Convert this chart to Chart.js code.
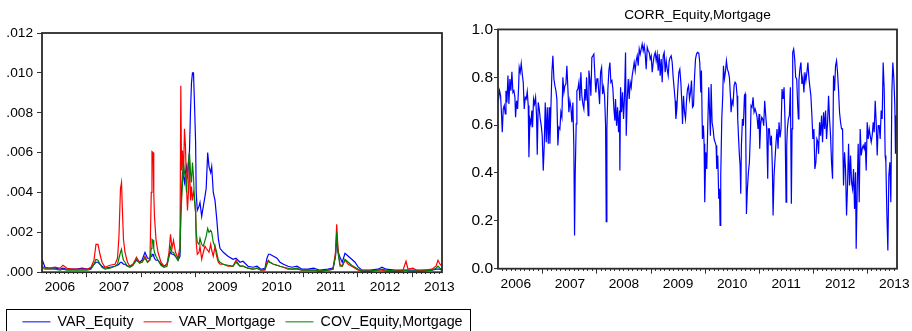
<!DOCTYPE html>
<html>
<head>
<meta charset="utf-8">
<script src="https://cdn.jsdelivr.net/npm/chart.js@4.4.0/dist/chart.umd.min.js"></script>
<style>
  body { margin: 0; background: #fff; overflow: hidden; width: 912px; height: 331px; position: relative; }
  canvas { position: absolute; top: 0; }
  #varChart { left: 0; }
  #corrChart { left: 455px; }
</style>
</head>
<body>
<canvas id="varChart" width="485" height="345"></canvas>
<canvas id="corrChart" width="457" height="331"></canvas>
<script>
// tick labels
const yearLabels = [2006, 2007, 2008, 2009, 2010, 2011, 2012, 2013];
const varTicks = [0, 0.002, 0.004, 0.006, 0.008, 0.01, 0.012];
const corrTicks = [0, 0.2, 0.4, 0.6, 0.8, 1.0];

// left panel: variances and covariance (dates as decimal years)
const varDates = [
  2006.170, 2006.225, 2006.317, 2006.410, 2006.502, 2006.557, 2006.631, 2006.723, 2006.815, 2006.908,
  2007.000, 2007.074, 2007.129, 2007.166, 2007.203, 2007.240, 2007.277, 2007.332, 2007.424, 2007.517,
  2007.563, 2007.590, 2007.618, 2007.637, 2007.655, 2007.673, 2007.701, 2007.747, 2007.793, 2007.849,
  2007.913, 2007.969, 2008.015, 2008.070, 2008.116, 2008.162, 2008.186, 2008.199, 2008.218, 2008.232,
  2008.245, 2008.273, 2008.310, 2008.365, 2008.421, 2008.476, 2008.513, 2008.541, 2008.568, 2008.596,
  2008.633, 2008.679, 2008.716, 2008.731, 2008.744, 2008.762, 2008.780, 2008.799, 2008.817, 2008.836,
  2008.854, 2008.873, 2008.891, 2008.910, 2008.928, 2008.946, 2008.965, 2008.983, 2009.004, 2009.015,
  2009.035, 2009.066, 2009.085, 2009.116, 2009.146, 2009.177, 2009.199, 2009.227, 2009.251, 2009.282,
  2009.301, 2009.330, 2009.362, 2009.393, 2009.423, 2009.454, 2009.515, 2009.601, 2009.694, 2009.749,
  2009.823, 2009.878, 2009.970, 2010.063, 2010.137, 2010.210, 2010.284, 2010.321, 2010.349, 2010.376,
  2010.441, 2010.506, 2010.561, 2010.625, 2010.708, 2010.782, 2010.875, 2010.967, 2011.077, 2011.179,
  2011.299, 2011.446, 2011.539, 2011.585, 2011.607, 2011.631, 2011.668, 2011.710, 2011.760, 2011.821,
  2011.884, 2011.945, 2012.006, 2012.074, 2012.221, 2012.369, 2012.443, 2012.517, 2012.683, 2012.830,
  2012.886, 2012.923, 2013.015, 2013.107, 2013.236, 2013.365, 2013.439, 2013.476, 2013.513, 2013.550
];
const varEquity = [
  0.00065, 0.00025, 0.0002, 0.0002, 0.00015, 0.0002, 0.00015, 0.00015, 0.00015, 0.0002,
  0.00015, 0.0002, 0.0004, 0.0005, 0.0005, 0.0004, 0.0003, 0.0002, 0.00025, 0.0003,
  0.00035, 0.0004, 0.0005, 0.0005, 0.00045, 0.0004, 0.0004, 0.0003, 0.0003, 0.0004,
  0.0006, 0.0005, 0.0006, 0.001, 0.0007, 0.0007, 0.0008, 0.0009, 0.0009, 0.0008,
  0.0007, 0.0006, 0.0006, 0.0004, 0.0003, 0.0004, 0.0008, 0.001, 0.0009, 0.0009,
  0.0008, 0.0006, 0.0008, 0.003, 0.004, 0.005, 0.0048, 0.0045, 0.005, 0.0053,
  0.0047, 0.0055, 0.0061, 0.0081, 0.0095, 0.01, 0.01, 0.0085, 0.0065, 0.004,
  0.0031, 0.0033, 0.0035, 0.0028, 0.0033, 0.0038, 0.0042, 0.006, 0.0053, 0.005,
  0.0053, 0.004, 0.0036, 0.0027, 0.0017, 0.0012, 0.001, 0.0008, 0.00065, 0.0007,
  0.0005, 0.00055, 0.0003, 0.00025, 0.0003, 0.00015, 0.0002, 0.0007, 0.0009, 0.0009,
  0.0008, 0.0007, 0.0005, 0.0004, 0.0003, 0.00025, 0.0003, 0.00015, 0.00015, 0.0002,
  0.0001, 0.00015, 0.0002, 0.0008, 0.0017, 0.001, 0.00075, 0.0005, 0.00095, 0.0008,
  0.00065, 0.0005, 0.00025, 0.0001, 0.0001, 0.00015, 0.00025, 0.00015, 0.0001, 0.0001,
  0.0001, 0.0001, 0.0001, 0.0001, 0.0001, 0.0001, 0.00015, 0.00015, 0.00015, 0.0001
];
const varMortgage = [
  0.0003, 0.0002, 0.0002, 0.00025, 0.0002, 0.00035, 0.0002, 0.00015, 0.00015, 0.00015,
  0.00015, 0.00025, 0.0006, 0.0014, 0.0014, 0.0009, 0.0005, 0.00025, 0.00035, 0.0004,
  0.0007, 0.0018, 0.0042, 0.0045, 0.003, 0.00165, 0.001, 0.0005, 0.0003, 0.0004,
  0.00075, 0.0005, 0.0005, 0.0008, 0.0005, 0.00065, 0.004, 0.00605, 0.006, 0.004,
  0.0028, 0.00165, 0.001, 0.0005, 0.0003, 0.0004, 0.001, 0.0019, 0.0012, 0.0016,
  0.001, 0.0007, 0.0013, 0.00935, 0.0051, 0.0061, 0.0048, 0.0072, 0.0063, 0.0043,
  0.0031, 0.0041, 0.0056, 0.0036, 0.0043, 0.0036, 0.004, 0.0038, 0.003, 0.0015,
  0.0009, 0.001, 0.0013, 0.00065, 0.001, 0.0013, 0.0012, 0.0011, 0.001, 0.0014,
  0.0011, 0.0008, 0.0013, 0.0008, 0.0005, 0.0004, 0.0004, 0.0003, 0.0003, 0.0006,
  0.0003, 0.0003, 0.0002, 0.00015, 0.0002, 0.0001, 0.0001, 0.0005, 0.0006, 0.0005,
  0.0004, 0.00035, 0.0003, 0.00025, 0.00015, 0.00015, 0.00015, 0.0001, 0.0001, 0.0001,
  0.00005, 0.0001, 0.00015, 0.001, 0.0024, 0.0012, 0.0004, 0.0003, 0.0006, 0.0004,
  0.0003, 0.0002, 0.0001, 0.00005, 0.00005, 0.0001, 0.0001, 0.00005, 0.00005, 0.0001,
  0.00055, 0.00015, 0.0002, 0.00005, 0.0001, 0.00015, 0.0003, 0.0006, 0.0004, 0.0003
];
const covEquityMortgage = [
  0.0002, 0.00015, 0.00015, 0.00015, 0.0001, 0.00015, 0.0001, 0.0001, 0.0001, 0.0001,
  0.0001, 0.00015, 0.0004, 0.00065, 0.0006, 0.0004, 0.00025, 0.00015, 0.0002, 0.0003,
  0.0004, 0.0007, 0.001, 0.00115, 0.0008, 0.0006, 0.0005, 0.0003, 0.00025, 0.00035,
  0.00065, 0.00045, 0.0005, 0.0007, 0.0005, 0.0006, 0.0012, 0.00165, 0.0016, 0.0012,
  0.001, 0.0008, 0.0006, 0.00035, 0.00025, 0.0003, 0.0008, 0.00125, 0.001, 0.001,
  0.0008, 0.0006, 0.001, 0.0028, 0.0035, 0.0045, 0.0055, 0.005, 0.0048, 0.004,
  0.005, 0.0056, 0.006, 0.005, 0.0045, 0.0055, 0.0048, 0.0036, 0.003, 0.002,
  0.0015, 0.0014, 0.0017, 0.0014, 0.0013, 0.0016, 0.0018, 0.0022, 0.002, 0.0021,
  0.002, 0.0015, 0.0013, 0.001, 0.0006, 0.0005, 0.0004, 0.00035, 0.0003, 0.0005,
  0.0003, 0.0003, 0.0002, 0.00015, 0.0002, 0.0001, 0.00015, 0.0004, 0.00055, 0.0005,
  0.0004, 0.00035, 0.0003, 0.00025, 0.0002, 0.00015, 0.0002, 0.0001, 0.0001, 0.0001,
  0.00005, 0.0001, 0.00015, 0.0008, 0.002, 0.001, 0.0003, 0.0003, 0.00065, 0.0005,
  0.00035, 0.00025, 0.00015, 0.00005, 0.00005, 0.0001, 0.00015, 0.0001, 0.00005, 0.00005,
  0.0001, 0.00005, 0.00005, 0.00005, 0.00005, 0.0001, 0.0002, 0.0003, 0.0002, 0.00015
];

// right panel: correlation
const corrDates = [
  2006.169, 2006.181, 2006.199, 2006.218, 2006.236, 2006.249, 2006.267, 2006.286, 2006.304, 2006.317,
  2006.335, 2006.354, 2006.372, 2006.390, 2006.409, 2006.427, 2006.446, 2006.464, 2006.483, 2006.495,
  2006.514, 2006.532, 2006.551, 2006.563, 2006.581, 2006.600, 2006.618, 2006.637, 2006.655, 2006.674,
  2006.692, 2006.711, 2006.729, 2006.742, 2006.760, 2006.779, 2006.797, 2006.809, 2006.828, 2006.846,
  2006.865, 2006.883, 2006.896, 2006.914, 2006.933, 2006.951, 2006.970, 2006.988, 2007.007, 2007.025,
  2007.044, 2007.062, 2007.081, 2007.099, 2007.117, 2007.130, 2007.148, 2007.167, 2007.185, 2007.204,
  2007.222, 2007.241, 2007.259, 2007.278, 2007.296, 2007.315, 2007.333, 2007.352, 2007.370, 2007.389,
  2007.407, 2007.426, 2007.444, 2007.463, 2007.481, 2007.499, 2007.518, 2007.536, 2007.555, 2007.573,
  2007.586, 2007.598, 2007.616, 2007.629, 2007.647, 2007.666, 2007.684, 2007.703, 2007.721, 2007.740,
  2007.758, 2007.777, 2007.795, 2007.808, 2007.826, 2007.838, 2007.851, 2007.869, 2007.888, 2007.906,
  2007.925, 2007.943, 2007.962, 2007.980, 2007.999, 2008.017,
  2008.036, 2008.049, 2008.067, 2008.086, 2008.104, 2008.123, 2008.141, 2008.160, 2008.172, 2008.184,
  2008.203, 2008.221, 2008.240, 2008.258, 2008.277, 2008.295, 2008.314, 2008.332, 2008.344, 2008.363,
  2008.381, 2008.400, 2008.418, 2008.424, 2008.437, 2008.455, 2008.474, 2008.492, 2008.511, 2008.529,
  2008.542, 2008.560, 2008.579, 2008.597, 2008.615, 2008.634, 2008.652, 2008.671, 2008.689, 2008.708,
  2008.726, 2008.745, 2008.763, 2008.782, 2008.800, 2008.819, 2008.837, 2008.856, 2008.874, 2008.893,
  2008.911, 2008.930, 2008.948, 2008.967, 2008.985, 2009.004, 2009.022, 2009.041, 2009.059, 2009.078,
  2009.096, 2009.115, 2009.133, 2009.151, 2009.170, 2009.188, 2009.207, 2009.225, 2009.244, 2009.262,
  2009.281, 2009.299, 2009.318, 2009.336, 2009.355, 2009.373, 2009.392, 2009.410, 2009.429, 2009.447,
  2009.460, 2009.478, 2009.496, 2009.515, 2009.533, 2009.552, 2009.570, 2009.583, 2009.601, 2009.620,
  2009.638, 2009.657, 2009.675, 2009.694, 2009.712, 2009.731, 2009.749, 2009.768, 2009.786, 2009.805,
  2009.823, 2009.842, 2009.860,
  2009.884, 2009.902, 2009.921, 2009.933, 2009.951, 2009.970, 2009.982, 2009.994, 2010.013, 2010.031,
  2010.050, 2010.068, 2010.081, 2010.099, 2010.112, 2010.130, 2010.149, 2010.167, 2010.185, 2010.204,
  2010.216, 2010.235, 2010.253, 2010.266, 2010.278, 2010.290, 2010.309, 2010.327, 2010.340, 2010.358,
  2010.376, 2010.395, 2010.413, 2010.432, 2010.450, 2010.469, 2010.481, 2010.500, 2010.518, 2010.537,
  2010.555, 2010.574, 2010.592, 2010.604, 2010.623, 2010.635, 2010.648, 2010.660, 2010.672, 2010.691,
  2010.709, 2010.728, 2010.740, 2010.752, 2010.765, 2010.783, 2010.802, 2010.820, 2010.839, 2010.851,
  2010.869, 2010.888, 2010.906, 2010.925, 2010.943, 2010.962, 2010.980, 2010.999, 2011.011, 2011.029,
  2011.048, 2011.066, 2011.085, 2011.103, 2011.122, 2011.140, 2011.159, 2011.171, 2011.190, 2011.208,
  2011.227, 2011.245, 2011.258, 2011.276, 2011.294, 2011.313, 2011.331, 2011.350, 2011.368, 2011.387,
  2011.405, 2011.424, 2011.442, 2011.461, 2011.479, 2011.498, 2011.510, 2011.522, 2011.541, 2011.559,
  2011.578, 2011.596, 2011.609, 2011.621, 2011.639, 2011.658, 2011.676, 2011.695, 2011.713, 2011.726,
  2011.736, 2011.754, 2011.773, 2011.791, 2011.810, 2011.828, 2011.847, 2011.865, 2011.884, 2011.902,
  2011.920, 2011.939, 2011.957, 2011.976, 2011.994, 2012.013, 2012.031, 2012.050, 2012.068, 2012.087,
  2012.099, 2012.118, 2012.136, 2012.155, 2012.173, 2012.192, 2012.210, 2012.229, 2012.247, 2012.266,
  2012.284, 2012.303, 2012.321, 2012.339, 2012.358, 2012.376, 2012.395, 2012.413, 2012.432, 2012.450,
  2012.469, 2012.487, 2012.506, 2012.524, 2012.543, 2012.561, 2012.580, 2012.598, 2012.617, 2012.635,
  2012.654, 2012.672, 2012.691, 2012.709, 2012.728, 2012.746, 2012.765, 2012.783, 2012.795, 2012.814,
  2012.832, 2012.851, 2012.869, 2012.888, 2012.906, 2012.925, 2012.943, 2012.962, 2012.980, 2012.999,
  2013.017, 2013.036, 2013.054, 2013.073, 2013.091, 2013.110, 2013.128, 2013.147, 2013.165, 2013.184,
  2013.202, 2013.221, 2013.239, 2013.257, 2013.276, 2013.294, 2013.313, 2013.331, 2013.344, 2013.362,
  2013.381, 2013.399, 2013.418, 2013.436, 2013.455, 2013.473, 2013.492, 2013.510, 2013.522, 2013.535
];
const corrEquityMortgage = [
  0.737, 0.709, 0.744, 0.723, 0.640, 0.570, 0.668, 0.682, 0.647, 0.744,
  0.695, 0.807, 0.688, 0.793, 0.744, 0.823, 0.737, 0.744, 0.716, 0.633,
  0.702, 0.668, 0.758, 0.841, 0.821, 0.858, 0.814, 0.779, 0.668, 0.716,
  0.709, 0.740, 0.682, 0.466, 0.626, 0.605, 0.661, 0.591, 0.709, 0.688,
  0.716, 0.640, 0.476, 0.695, 0.668, 0.626, 0.598, 0.556, 0.410, 0.515,
  0.695, 0.529, 0.675, 0.522, 0.675, 0.522, 0.668, 0.821, 0.890, 0.793,
  0.765, 0.744, 0.709, 0.515, 0.591, 0.584, 0.654, 0.633, 0.800, 0.737,
  0.765, 0.772, 0.848, 0.751, 0.654, 0.702, 0.675, 0.612, 0.695, 0.508,
  0.139, 0.389, 0.605, 0.744, 0.751, 0.779, 0.702, 0.821, 0.723, 0.688,
  0.668, 0.751, 0.702, 0.800, 0.702, 0.640, 0.828, 0.793, 0.723, 0.883,
  0.890, 0.897, 0.807, 0.737, 0.793, 0.793,
  0.730, 0.688, 0.821, 0.841, 0.730, 0.758, 0.723, 0.598, 0.197, 0.584,
  0.751, 0.828, 0.862, 0.779, 0.786, 0.751, 0.668, 0.619, 0.709, 0.598,
  0.675, 0.570, 0.661, 0.410, 0.758, 0.654, 0.737, 0.626, 0.723, 0.904,
  0.556, 0.709, 0.793, 0.709, 0.779, 0.758, 0.807, 0.834, 0.862, 0.828,
  0.869, 0.890, 0.848, 0.918, 0.897, 0.918, 0.939, 0.911, 0.932, 0.897,
  0.834, 0.925, 0.911, 0.904, 0.876, 0.890, 0.821, 0.862, 0.890, 0.904,
  0.869, 0.897, 0.828, 0.897, 0.807, 0.876, 0.779, 0.890, 0.904, 0.821,
  0.869, 0.834, 0.807, 0.869, 0.883, 0.890, 0.862, 0.800, 0.751, 0.702,
  0.626, 0.668, 0.751, 0.821, 0.834, 0.779, 0.695, 0.605, 0.723, 0.654,
  0.626, 0.702, 0.751, 0.765, 0.709, 0.737, 0.786, 0.675, 0.682, 0.800,
  0.876, 0.897, 0.904,
  0.901, 0.862, 0.737, 0.828, 0.542, 0.598, 0.522, 0.278, 0.487, 0.417,
  0.598, 0.758, 0.675, 0.556, 0.772, 0.612, 0.584, 0.542, 0.529, 0.515,
  0.417, 0.473, 0.292, 0.334, 0.181, 0.389, 0.626, 0.723, 0.848, 0.793,
  0.821, 0.869, 0.834, 0.821, 0.800, 0.723, 0.654, 0.702, 0.688, 0.765,
  0.779, 0.772, 0.723, 0.626, 0.529, 0.473, 0.431, 0.313, 0.515, 0.626,
  0.598, 0.723, 0.730, 0.584, 0.229, 0.334, 0.403, 0.445, 0.570, 0.682,
  0.675, 0.716, 0.654, 0.668, 0.654, 0.633, 0.584, 0.647, 0.501, 0.605,
  0.633, 0.626, 0.598, 0.702, 0.640, 0.584, 0.376, 0.584, 0.584, 0.515,
  0.556, 0.417, 0.222, 0.389, 0.459, 0.529, 0.584, 0.501, 0.612, 0.549,
  0.584, 0.751, 0.709, 0.758, 0.612, 0.278, 0.515, 0.584, 0.626, 0.640,
  0.758, 0.271, 0.584, 0.904, 0.918, 0.876, 0.800, 0.793, 0.682, 0.626,
  0.786, 0.834, 0.862, 0.772, 0.800, 0.737, 0.821, 0.786, 0.821, 0.862,
  0.800, 0.758, 0.723, 0.640, 0.542, 0.584, 0.417, 0.445, 0.542, 0.529,
  0.480, 0.612, 0.556, 0.640, 0.529, 0.654, 0.584, 0.661, 0.542, 0.612,
  0.723, 0.626, 0.556, 0.445, 0.376, 0.807, 0.744, 0.848, 0.869, 0.821,
  0.744, 0.654, 0.612, 0.584, 0.584, 0.348, 0.487, 0.417, 0.222, 0.348,
  0.522, 0.348, 0.473, 0.362, 0.334, 0.417, 0.250, 0.403, 0.083, 0.334,
  0.522, 0.278, 0.584, 0.473, 0.501, 0.515, 0.501, 0.529, 0.410, 0.612,
  0.542, 0.584, 0.556, 0.529, 0.556, 0.612, 0.570, 0.702, 0.612, 0.473,
  0.598, 0.598, 0.542, 0.661, 0.626, 0.862, 0.751, 0.473, 0.445, 0.236,
  0.076, 0.389, 0.445, 0.278, 0.737, 0.862, 0.793, 0.682, 0.480, 0.640
];

Chart.defaults.font.family = "'Liberation Sans', Arial, sans-serif";
Chart.defaults.color = "#000";

const xMin = 2006.17;
const xMax = 2013.55;

function monthOf(v) {
  return Math.round((v - Math.floor(v + 1e-9)) * 12) % 12;
}

// one tick per month, long ones at new year, year label at mid-year
function timeAxis() {
  return {
    type: "linear",
    min: xMin,
    max: xMax,
    afterBuildTicks: (axis) => {
      const ticks = [];
      yearLabels.forEach((yr) => {
        for (let m = 0; m < 12; m++) {
          const v = yr + m / 12;
          if (v >= axis.min && v <= axis.max) ticks.push({ value: v });
        }
      });
      axis.ticks = ticks;
    },
    afterFit: (s) => {
      s.height = 32.5;
    },
    border: { display: false },
    grid: {
      drawOnChartArea: false,
      tickLength: 5,
      tickColor: "#333",
      tickBorderDash: (ctx) =>
        ctx.tick && monthOf(ctx.tick.value) === 0 ? [] : [2, 10],
    },
    ticks: {
      autoSkip: false,
      maxRotation: 0,
      padding: 2,
      font: { size: 13.7 },
      callback: (v) => (monthOf(v) === 6 ? String(Math.floor(v + 1e-9)) : ""),
    },
  };
}

function valueAxis(tickValues, width, fmt, size, tickLen, pad) {
  return {
    type: "linear",
    min: tickValues[0],
    max: tickValues[tickValues.length - 1],
    afterBuildTicks: (axis) => {
      axis.ticks = tickValues.map((v) => ({ value: v }));
    },
    afterFit: (s) => {
      s.width = width;
    },
    border: { display: false },
    grid: { drawOnChartArea: false, tickLength: tickLen, tickColor: "#333" },
    ticks: { padding: pad, font: { size: size }, callback: fmt },
  };
}

const framePlugin = {
  id: "frame",
  afterDatasetsDraw(chart) {
    const { ctx, chartArea: a } = chart;
    ctx.save();
    ctx.strokeStyle = "#2a2a2a";
    ctx.lineWidth = 1.8;
    ctx.strokeRect(a.left, a.top, a.right - a.left, a.bottom - a.top);
    ctx.restore();
  },
};

const legendBoxPlugin = {
  id: "legendBox",
  afterDraw(chart) {
    const boxes = chart.legend && chart.legend.legendHitBoxes;
    if (!boxes || !boxes.length) return;
    const first = boxes[0];
    const last = boxes[boxes.length - 1];
    const left = Math.round(first.left - 16.7) + 0.5;
    const right = Math.round(last.left + last.width + 7) + 0.5;
    const top = Math.round(first.top - 5.5) + 0.5;
    const ctx = chart.ctx;
    ctx.save();
    ctx.strokeStyle = "#000";
    ctx.lineWidth = 1;
    ctx.strokeRect(left, top, right - left, chart.height + 5 - top);
    ctx.restore();
  },
};

const lineStyle = {
  point: { radius: 0 },
  line: { borderWidth: 1.2, tension: 0 },
};

new Chart(document.getElementById("varChart"), {
  type: "line",
  data: {
    datasets: [
      {
        label: "VAR_Equity",
        data: varDates.map((d, i) => ({ x: d, y: varEquity[i] })),
        borderColor: "#0000ff",
        backgroundColor: "#0000ff",
        order: 3,
      },
      {
        label: "VAR_Mortgage",
        data: varDates.map((d, i) => ({ x: d, y: varMortgage[i] })),
        borderColor: "#ff0000",
        backgroundColor: "#ff0000",
        order: 2,
      },
      {
        label: "COV_Equity,Mortgage",
        data: varDates.map((d, i) => ({ x: d, y: covEquityMortgage[i] })),
        borderColor: "#008000",
        backgroundColor: "#008000",
        order: 1,
      },
    ],
  },
  options: {
    responsive: false,
    animation: false,
    elements: lineStyle,
    layout: { padding: { left: 0, right: 0, top: 33, bottom: 6 } },
    scales: {
      x: timeAxis(),
      y: valueAxis(varTicks, 42, (v) => v.toFixed(3).replace(/^0/, ""), 13.7, 5, 4),
      yPad: {
        type: "linear",
        display: true,
        position: "right",
        afterFit: (s) => {
          s.width = 43;
        },
        grid: { display: false },
        border: { display: false },
        ticks: { display: false },
      },
    },
    plugins: {
      legend: {
        position: "bottom",
        labels: {
          usePointStyle: true,
          pointStyle: "line",
          pointStyleWidth: 28,
          padding: 10,
          color: "#000",
          font: { size: 14.3 },
          sort: (a, b) => a.datasetIndex - b.datasetIndex,
        },
      },
      tooltip: { enabled: false },
    },
  },
  plugins: [framePlugin, legendBoxPlugin],
});

new Chart(document.getElementById("corrChart"), {
  type: "line",
  data: {
    datasets: [
      {
        label: "CORR_Equity,Mortgage",
        data: corrDates.map((d, i) => ({ x: d, y: corrEquityMortgage[i] })),
        borderColor: "#0000ff",
        backgroundColor: "#0000ff",
      },
    ],
  },
  options: {
    responsive: false,
    animation: false,
    elements: lineStyle,
    layout: { padding: { left: 0, right: 15, top: 0, bottom: 29.8 } },
    scales: {
      x: timeAxis(),
      y: valueAxis(corrTicks, 43, (v) => v.toFixed(1), 15.5, 4, 1),
    },
    plugins: {
      legend: { display: false },
      tooltip: { enabled: false },
      title: {
        display: true,
        text: "CORR_Equity,Mortgage",
        color: "#000",
        fullSize: false,
        font: { size: 13.7, weight: "normal" },
        padding: { top: 7, bottom: 6 },
      },
    },
  },
  plugins: [framePlugin],
});
</script>
</body>
</html>
